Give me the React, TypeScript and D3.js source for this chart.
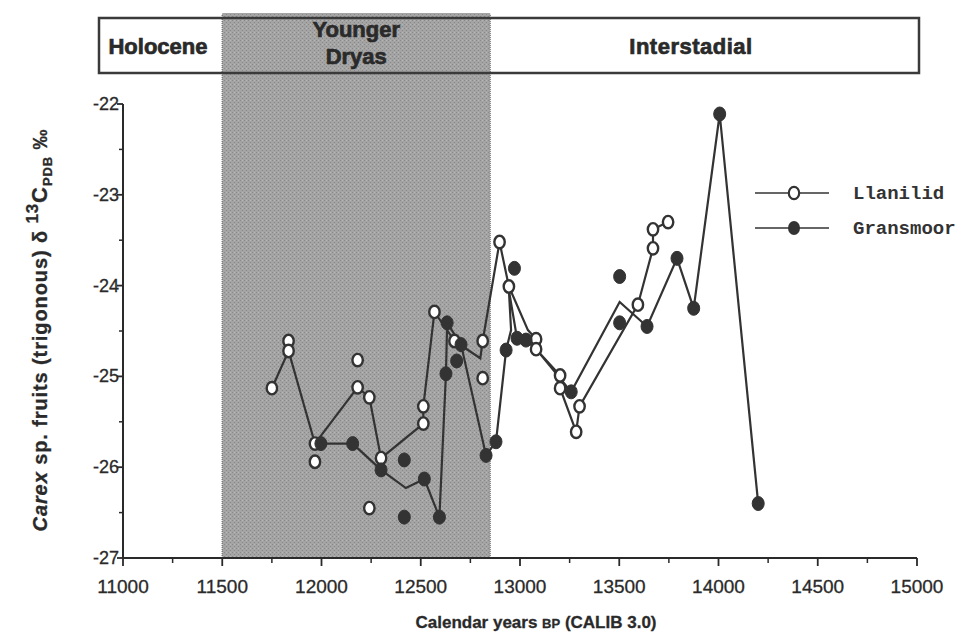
import React from "react";
import * as d3 from "d3";

// ---- data ----
const llanilidYears = [11750, 11834, 11834, 11967, 11967, 12182, 12182, 12241, 12241, 12300, 12513, 12513, 12569, 12670, 12812, 12812, 12897, 12944, 13081, 13081, 13202, 13202, 13283, 13300, 13594, 13670, 13670, 13746];
const llanilidValues = [-25.13, -24.61, -24.72, -25.74, -25.94, -24.82, -25.12, -25.23, -26.45, -25.9, -25.52, -25.33, -24.29, -24.61, -24.61, -25.02, -23.52, -24.01, -24.59, -24.7, -24.99, -25.13, -25.61, -25.33, -24.21, -23.59, -23.38, -23.3];
const llanilidLineYears = [11750, 11834, 11967, 12182, 12241, 12300, 12513, 12513, 12569, 12670, 12800, 12812, 12897, 12944, 13040, 13081, 13081, 13202, 13202, 13283, 13300, 13594, 13670, 13670, 13746];
const llanilidLineValues = [-25.13, -24.72, -25.74, -25.12, -25.23, -25.9, -25.52, -25.33, -24.29, -24.61, -24.8, -24.61, -23.52, -24.01, -24.49, -24.59, -24.7, -24.99, -25.13, -25.61, -25.33, -24.21, -23.59, -23.38, -23.3];

const gransmoorYears = [11997, 12157, 12300, 12417, 12417, 12518, 12594, 12627, 12633, 12681, 12703, 12829, 12879, 12930, 12972, 12985, 13030, 13258, 13502, 13502, 13640, 13791, 13875, 14006, 14200];
const gransmoorValues = [-25.74, -25.74, -26.03, -25.92, -26.55, -26.13, -26.55, -24.97, -24.41, -24.83, -24.65, -25.87, -25.72, -24.71, -23.81, -24.58, -24.6, -25.17, -23.9, -24.41, -24.45, -23.7, -24.25, -22.11, -26.4];
const gransmoorLineYears = [11997, 12157, 12300, 12425, 12518, 12594, 12627, 12633, 12703, 12829, 12879, 12930, 12955, 12944, 12985, 13030, 13081, 13258, 13502, 13640, 13791, 13875, 14006, 14200];
const gransmoorLineValues = [-25.74, -25.74, -26.03, -26.23, -26.13, -26.55, -24.97, -24.41, -24.65, -25.87, -25.72, -24.71, -24.49, -24.05, -24.58, -24.6, -24.7, -25.17, -24.18, -24.45, -23.7, -24.25, -22.11, -26.4];

const xTicks = [11000, 11500, 12000, 12500, 13000, 13500, 14000, 14500, 15000];
const xMinorTicks = [11250, 11750, 12250, 12750, 13250, 13750, 14250, 14750];
const yTicks = [-22, -23, -24, -25, -26, -27];
const yMinorTicks = [-22.5, -23.5, -24.5, -25.5, -26.5];
const youngerDryas = [11500, 12850];
const periods = ["Holocene", "Interstadial"];
const seriesNames = ["Llanilid", "Gransmoor"];

const W = 977;
const H = 634;
const INK = "#2a2a2a";

export default function App() {
  const x = d3.scaleLinear().domain([11000, 15000]).range([123, 917]);
  const y = d3.scaleLinear().domain([-27, -22]).range([558, 104]);
  const line = d3
    .line<[number, number]>()
    .x((d) => x(d[0]))
    .y((d) => y(d[1]));

  const lPath = line(llanilidLineYears.map((v, i) => [v, llanilidLineValues[i]] as [number, number])) || "";
  const gPath = line(gransmoorLineYears.map((v, i) => [v, gransmoorLineValues[i]] as [number, number])) || "";

  const axisY = y(-27);
  const axisX = x(11000);
  const sans = "Arial, 'Liberation Sans', Helvetica, sans-serif";
  const mono = "'Liberation Mono', 'Courier New', monospace";

  const boxL = 99, boxR = 919, boxT = 15, boxB = 73;
  const ydMid = (x(youngerDryas[0]) + x(youngerDryas[1])) / 2;
  const headStyle = { stroke: INK, strokeWidth: 0.7 } as React.CSSProperties;

  return (
    <svg width={W} height={H} style={{ position: "absolute", left: 0, top: 0, display: "block", background: "#fff" }}>
      <defs>
        <pattern id="stipple" width="4" height="4" patternUnits="userSpaceOnUse">
          <rect width="4" height="4" fill="#a4a4a4" />
          <rect x="0" y="0" width="1" height="1" fill="#888" />
          <rect x="2" y="2" width="1" height="1" fill="#888" />
          <rect x="2" y="0" width="1" height="1" fill="#b6b6b6" />
        </pattern>
      </defs>

      {/* Younger Dryas band */}
      <rect
        x={x(youngerDryas[0])}
        y={boxT - 2}
        width={x(youngerDryas[1]) - x(youngerDryas[0])}
        height={axisY - boxT + 2}
        fill="url(#stipple)"
      />
      <line x1={x(youngerDryas[0])} x2={x(youngerDryas[0])} y1={boxT} y2={axisY} stroke="#7a7a7a" strokeWidth={1.5} strokeDasharray="1 1" />
      <line x1={x(youngerDryas[1])} x2={x(youngerDryas[1])} y1={boxT} y2={axisY} stroke="#8a8a8a" strokeWidth={1.5} strokeDasharray="1 1" />

      {/* header box */}
      <rect x={boxL} y={boxT + 3} width={boxR - boxL} height={boxB - boxT - 3} fill="none" stroke="#3a3a3a" strokeWidth={2.5} />
      <text x={158} y={54} textAnchor="middle" fontFamily={sans} fontWeight="bold" fontSize={22} fill={INK} style={headStyle}>
        {periods[0]}
      </text>
      <text x={ydMid} y={37} textAnchor="middle" fontFamily={sans} fontWeight="bold" fontSize={22} fill={INK} style={headStyle}>
        Younger
      </text>
      <text x={ydMid} y={64} textAnchor="middle" fontFamily={sans} fontWeight="bold" fontSize={22} fill={INK} style={headStyle}>
        Dryas
      </text>
      <text x={691} y={54} textAnchor="middle" fontFamily={sans} fontWeight="bold" fontSize={22} fill={INK} style={headStyle} letterSpacing={0.5}>
        {periods[1]}
      </text>

      {/* axes */}
      <line x1={axisX} x2={x(15000)} y1={axisY} y2={axisY} stroke={INK} strokeWidth={2} />
      <line x1={axisX} x2={axisX} y1={y(-22)} y2={axisY} stroke={INK} strokeWidth={2} />
      {xTicks.map((t) => (
        <g key={"xt" + t}>
          <line x1={x(t)} x2={x(t)} y1={axisY} y2={axisY + 8} stroke={INK} strokeWidth={1.8} />
          <text x={x(t)} y={axisY + 35} textAnchor="middle" fontFamily={sans} fontSize={19} fill={INK} stroke={INK} strokeWidth={0.3}>
            {t}
          </text>
        </g>
      ))}
      {xMinorTicks.map((t) => (
        <line key={"xm" + t} x1={x(t)} x2={x(t)} y1={axisY} y2={axisY + 5} stroke={INK} strokeWidth={1.5} />
      ))}
      {yTicks.map((t) => (
        <g key={"yt" + t}>
          <line x1={axisX - 6} x2={axisX} y1={y(t)} y2={y(t)} stroke={INK} strokeWidth={1.8} />
          <text x={axisX - 4} y={y(t) + 6} textAnchor="end" fontFamily={sans} fontSize={18} fill={INK} stroke={INK} strokeWidth={0.3}>
            {t}
          </text>
        </g>
      ))}
      {yMinorTicks.map((t) => (
        <line key={"ym" + t} x1={axisX - 4} x2={axisX} y1={y(t)} y2={y(t)} stroke={INK} strokeWidth={1.5} />
      ))}

      {/* axis titles */}
      <text x={536} y={628} textAnchor="middle" fontFamily={sans} fontWeight="bold" fontSize={17} fill={INK} stroke={INK} strokeWidth={0.3}>
        Calendar years <tspan fontSize={13}>BP</tspan> (CALIB 3.0)
      </text>
      <text transform="translate(47,330) rotate(-90)" textAnchor="middle" fontFamily={sans} fontWeight="bold" fontSize={20} fill={INK} stroke={INK} strokeWidth={0.3} letterSpacing={0.9}>
        <tspan fontStyle="italic">Carex</tspan> sp. fruits (trigonous) δ <tspan fontSize={17} dy={-9}>13</tspan>
        <tspan dy={9} fontSize={22}>C</tspan>
        <tspan fontSize={13} dy={5}>PDB</tspan>
        <tspan dy={-5}> ‰</tspan>
      </text>

      {/* series lines */}
      <path d={lPath} fill="none" stroke="#333" strokeWidth={2.2} strokeLinejoin="miter" />
      <path d={gPath} fill="none" stroke="#333" strokeWidth={2.2} strokeLinejoin="miter" />

      {/* markers */}
      {llanilidYears.map((v, i) => (
        <ellipse key={"l" + i} cx={x(v)} cy={y(llanilidValues[i])} rx={5.2} ry={6.2} fill="#fff" stroke="#333" strokeWidth={2.4} />
      ))}
      {gransmoorYears.map((v, i) => (
        <ellipse key={"g" + i} cx={x(v)} cy={y(gransmoorValues[i])} rx={6} ry={7} fill="#333" stroke="#333" strokeWidth={1} />
      ))}

      {/* legend */}
      {seriesNames.map((name, i) => {
        const ly = 193 + i * 35;
        return (
          <g key={name}>
            <line x1={755} x2={829} y1={ly} y2={ly} stroke="#333" strokeWidth={1.5} />
            {i === 0 ? (
              <ellipse cx={794} cy={ly} rx={5.2} ry={6.2} fill="#fff" stroke="#333" strokeWidth={2.2} />
            ) : (
              <ellipse cx={794} cy={ly} rx={6} ry={7} fill="#333" />
            )}
            <text x={853} y={ly + 6} fontFamily={mono} fontWeight="bold" fontSize={19} fill="#333">
              {name}
            </text>
          </g>
        );
      })}
    </svg>
  );
}
